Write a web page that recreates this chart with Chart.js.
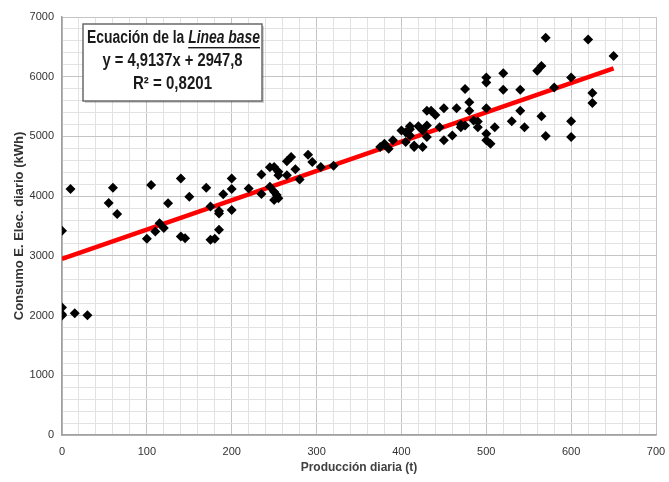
<!DOCTYPE html>
<html>
<head>
<meta charset="utf-8">
<script src="https://cdn.jsdelivr.net/npm/chart.js@4"></script>
<style>
  html, body { margin: 0; padding: 0; background: #fff; }
  #wrap { width: 669px; height: 482px; }
</style>
</head>
<body>
<div id="wrap"><canvas id="chart" width="669" height="482"></canvas></div>
<script>
// ===== DATOS =====
const prodX = [0, 10, 0, 0, 0, 15, 30, 55, 60, 65, 100, 105, 110, 115, 120, 125, 140, 140, 145, 150,
  170, 175, 175, 180, 185, 185, 185, 190, 200, 200, 200, 220, 235, 235, 245, 250, 245, 250, 253, 250,
  255, 255, 255, 265, 270, 265, 275, 280, 290, 295, 305, 320,
  375, 380, 385, 390, 400, 405, 405, 410, 410, 415, 415, 420, 425, 430, 430, 430, 435, 440,
  445, 450, 450, 460, 465, 470, 475, 475, 480, 480, 485, 490, 500, 500, 500, 500, 500, 505, 510,
  520, 520, 530, 540, 540, 545, 560, 565, 565, 570, 570, 580, 600, 600, 600, 620, 625, 625, 650,
  410, 425, 470, 490];
const consumoY = [3420, 4120, 2134, 2023, 2000, 2040, 2007, 3886, 4141, 3703, 3287, 4185, 3409, 3548, 3465, 3880, 4296, 3326, 3293, 3991,
  4141, 3825, 3270, 3287, 3437, 3753, 3708, 4030, 4296, 4119, 3769, 4130, 4362, 4035, 4484, 4490, 4157, 4074, 4019, 3936,
  3963, 4407, 4351, 4584, 4656, 4351, 4451, 4279, 4695, 4573, 4490, 4507,
  4823, 4878, 4795, 4934, 5100, 5072, 4906, 5172, 5017, 4850, 4823, 5172, 4823, 5432, 5183, 4989, 5432, 5360,
  5155, 5471, 4934, 5017, 5471, 5155, 5793, 5183, 5571, 5432, 5266, 5155, 5987, 5904, 5471, 5044, 4934, 4878, 5155,
  6059, 5782, 5255, 5782, 5432, 5155, 6098, 6181, 5338, 6652, 5006, 5820, 5987, 5255, 4989, 6624, 5726, 5560, 6347,
  5120, 5100, 5200, 5250];

// linea base (y = 4,9137x + 2947,8)
const lineaX = [0, 650];
const lineaY = [2947.8, 6141.7];

const xMax = 700, yMax = 7000;

// ===== CAJA DE LA ECUACION =====
// texto estrecho tipo Calibri: se comprime en horizontal hasta el ancho deseado
function textoAncho(c, partes, cx, cy, ancho) {
  let total = 0;
  partes.forEach(p => { c.font = p.font; p.w = c.measureText(p.t).width; total += p.w; });
  const k = ancho / total;
  c.save();
  c.translate(cx - ancho / 2, cy);
  c.scale(k, 1);
  let x = 0;
  partes.forEach(p => {
    c.font = p.font;
    c.fillText(p.t, x, 0);
    if (p.sub) c.fillRect(x, 9, p.w, 1.4);
    x += p.w;
  });
  c.restore();
}

const cajaPlugin = {
  id: "caja",
  afterDraw(chart) {
    const c = chart.ctx;
    const x0 = 83, y0 = 24, w = 179, h = 77;
    c.save();
    c.fillStyle = "rgba(0,0,0,0.18)";
    c.fillRect(x0 + 2, y0 + 2, w, h);
    c.fillStyle = "#fff";
    c.fillRect(x0, y0, w, h);
    c.strokeStyle = "#6a6a6a";
    c.lineWidth = 1.5;
    c.strokeRect(x0, y0, w, h);

    c.fillStyle = "#1a1a1a";
    c.textBaseline = "middle";
    c.textAlign = "left";
    const f1 = "bold 18px 'Liberation Sans Narrow', Arial";
    const f2 = "italic bold 18px 'Liberation Sans Narrow', Arial";
    textoAncho(c, [{ t: "Ecuación de la ", font: f1 }, { t: "Linea base", font: f2, sub: true }], x0 + w / 2 + 1, y0 + 14, 173);
    textoAncho(c, [{ t: "y = 4,9137x + 2947,8", font: f1 }], x0 + w / 2, y0 + 37, 140);
    textoAncho(c, [{ t: "R² = 0,8201", font: f1 }], x0 + w / 2, y0 + 60, 79);
    c.restore();
  }
};

// ===== GRAFICO =====
const ctx = document.getElementById("chart").getContext("2d");

const gridColor = (major) => (c) => (c.tick && c.tick.value % major === 0) ? "#c4c4c4" : "#e2e2e2";

new Chart(ctx, {
  type: "scatter",
  data: {
    datasets: [{
      label: "Consumo",
      data: prodX.map((x, i) => ({ x: x, y: consumoY[i] })),
      pointStyle: "rectRot",
      pointRadius: 5,
      backgroundColor: "#000",
      borderColor: "#000",
      borderWidth: 0
    }, {
      type: "line",
      label: "Linea base",
      data: lineaX.map((x, i) => ({ x: x, y: lineaY[i] })),
      borderColor: "#ff0000",
      borderWidth: 4.5,
      pointRadius: 0,
      fill: false
    }]
  },
  options: {
    responsive: false,
    animation: false,
    layout: { padding: { top: 17, right: 13, left: 0, bottom: 0 } },
    plugins: { legend: { display: false }, tooltip: { enabled: false } },
    scales: {
      x: {
        type: "linear",
        min: 0, max: xMax,
        afterFit: (s) => { s.height = 47; s.paddingLeft = 0; s.paddingRight = 0; },
        ticks: {
          stepSize: 20, autoSkip: false, maxRotation: 0, padding: 10,
          color: "#333", font: { family: "'Liberation Sans Narrow', Arial", size: 11 },
          callback: (v) => v % 100 === 0 ? v : ""
        },
        grid: { color: gridColor(100), drawTicks: false },
        border: { color: "#a0a0a0", width: 1.5 },
        title: {
          display: true, text: "Producción diaria (t)", color: "#404040",
          font: { family: "'Liberation Sans Narrow', Arial", size: 12, weight: "bold" },
          padding: { top: 0, bottom: 7 }
        }
      },
      y: {
        min: 0, max: yMax,
        afterFit: (s) => { s.width = 62; s.paddingTop = 0; s.paddingBottom = 0; },
        ticks: {
          stepSize: 200, autoSkip: false, padding: 8,
          color: "#333", font: { family: "'Liberation Sans Narrow', Arial", size: 11 },
          callback: (v) => v % 1000 === 0 ? v : ""
        },
        grid: { color: gridColor(1000), drawTicks: false },
        border: { color: "#a0a0a0", width: 1.5 },
        title: {
          display: true, text: "Consumo E. Elec. diario (kWh)", color: "#333",
          font: { family: "'Liberation Sans', Arial", size: 13, weight: "bold" },
          padding: { top: 12, bottom: 0 }
        }
      }
    }
  },
  plugins: [cajaPlugin]
});
</script>
</body>
</html>
